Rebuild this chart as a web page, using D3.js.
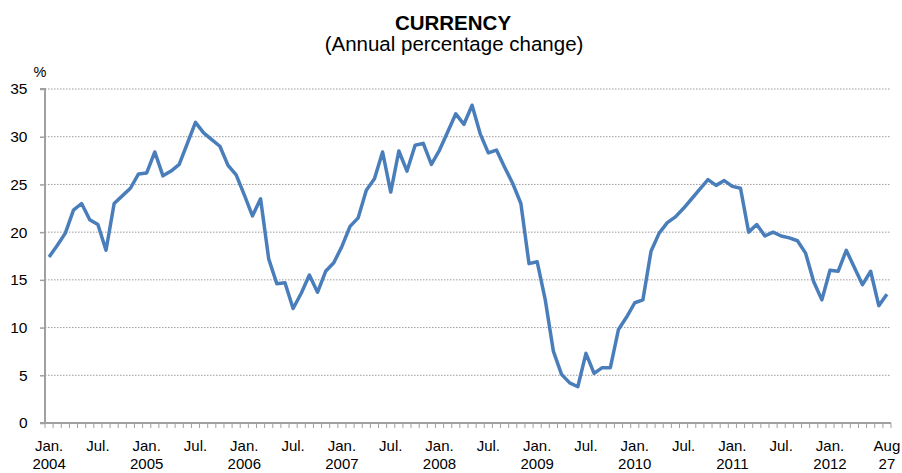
<!DOCTYPE html>
<html>
<head>
<meta charset="utf-8">
<script src="https://cdn.jsdelivr.net/npm/d3@7"></script>
<style>
  body { margin: 0; background: #fff; }
  svg { font-family: "Liberation Sans", Arial, sans-serif; }
</style>
</head>
<body>
<div id="chart"></div>
<script>
// monthly data, Jan 2004 .. Aug 2012
let startYear = 2004;
let values = [
  17.4, 18.6, 19.9, 22.3, 23.0, 21.3, 20.8, 18.1, 23.0, 23.8, 24.6, 26.1,
  26.2, 28.4, 25.9, 26.4, 27.1, 29.3, 31.5, 30.4, 29.7, 29.0, 27.0, 26.0,
  23.9, 21.7, 23.5, 17.2, 14.6, 14.7, 12.0, 13.6, 15.5, 13.7, 15.9, 16.8,
  18.5, 20.6, 21.5, 24.4, 25.6, 28.4, 24.2, 28.5, 26.4, 29.1, 29.3, 27.1,
  28.6, 30.5, 32.4, 31.3, 33.3, 30.3, 28.3, 28.6, 26.8, 25.1, 23.0, 16.7,
  16.9, 12.9, 7.5, 5.1, 4.2, 3.8, 7.3, 5.2, 5.8, 5.8, 9.8, 11.1,
  12.6, 12.9, 18.0, 19.9, 21.0, 21.6, 22.5, 23.5, 24.5, 25.5, 24.9, 25.4,
  24.8, 24.6, 20.0, 20.8, 19.6, 20.0, 19.6, 19.4, 19.1, 17.8, 14.8, 12.9,
  16.0, 15.9, 18.1, 16.3, 14.5, 15.9, 12.3, 13.5
];
let yTicks = [0, 5, 10, 15, 20, 25, 30, 35];
let lastLabel = ["Aug", "27"];
let title = "CURRENCY";
let subtitle = "(Annual percentage change)";
let unit = "%";

let svgWidth = 902;
let svgHeight = 473;
let margin = { top: 89, right: 11, bottom: 50, left: 45 };
let width = svgWidth - margin.left - margin.right;
let height = svgHeight - margin.top - margin.bottom;

let svg = d3.select("#chart").append("svg")
  .attr("width", svgWidth)
  .attr("height", svgHeight);

let g = svg.append("g").attr("transform", `translate(${margin.left},${margin.top})`);

let idx = d3.range(values.length);
let x = d3.scaleBand().domain(idx).range([0, width]);
let y = d3.scaleLinear().domain([0, 35]).range([height, 0]);

// horizontal dotted gridlines
g.append("g")
  .selectAll("line")
  .data(yTicks.filter(d => d > 0))
  .enter()
  .append("line")
  .attr("x1", 0)
  .attr("x2", width)
  .attr("y1", d => y(d))
  .attr("y2", d => y(d))
  .attr("stroke", "#9a9a9a")
  .attr("stroke-width", 1)
  .attr("stroke-dasharray", "1.5,1.5");

// y axis
let yAxis = g.append("g")
  .call(d3.axisLeft(y).tickValues(yTicks).tickSize(5).tickPadding(12.5));
yAxis.select(".domain").attr("stroke", "#a0a0a0").attr("stroke-width", 2)
  .attr("d", `M-5,0H0V${height}`);
yAxis.selectAll(".tick line").attr("stroke", "#a0a0a0").attr("stroke-width", 1.5);
yAxis.selectAll("text")
  .attr("font-size", "15.5px")
  .attr("fill", "#000")
  .attr("font-family", "Liberation Sans, Arial, sans-serif");

// x axis: tick marks between categories
let xAxisG = g.append("g").attr("transform", `translate(0,${height})`);
xAxisG.append("line")
  .attr("x1", -5).attr("x2", width)
  .attr("stroke", "#a0a0a0").attr("stroke-width", 2);
xAxisG.selectAll(".xtick")
  .data(d3.range(values.length + 1))
  .enter()
  .append("line")
  .attr("class", "xtick")
  .attr("x1", d => d * x.step())
  .attr("x2", d => d * x.step())
  .attr("y1", 0)
  .attr("y2", 5)
  .attr("stroke", "#a0a0a0")
  .attr("stroke-width", 1);

// labels every 6 months (none for Jul. of the last year), last one "Aug 27"
let last = values.length - 1;
let labelIdx = idx.filter(i => i % 6 === 0 && i < last - 2);
let monthLabel = i => (i % 12 === 0 ? "Jan." : "Jul.");
let cx = i => x(i) + x.bandwidth() / 2;
let xLabels = xAxisG.selectAll(".xlabel")
  .data(labelIdx)
  .enter()
  .append("text")
  .attr("class", "xlabel")
  .attr("x", cx)
  .attr("y", 28)
  .attr("text-anchor", "middle")
  .attr("font-size", "15px")
  .attr("fill", "#000");
xLabels.append("tspan").text(monthLabel);
xLabels.filter(i => i % 12 === 0).append("tspan")
  .attr("x", cx)
  .attr("dy", 18)
  .text(i => startYear + i / 12);

let endLabel = xAxisG.append("text")
  .attr("x", cx(last))
  .attr("y", 28)
  .attr("text-anchor", "middle")
  .attr("font-size", "15px")
  .attr("fill", "#000");
endLabel.append("tspan").text(lastLabel[0]);
endLabel.append("tspan").attr("x", cx(last)).attr("dy", 18).text(lastLabel[1]);

// data line
let line = d3.line()
  .x((d, i) => cx(i))
  .y(d => y(d));
g.append("path")
  .datum(values)
  .attr("fill", "none")
  .attr("stroke", "#4a7ebb")
  .attr("stroke-width", 3.5)
  .attr("stroke-linejoin", "round")
  .attr("d", line);

// titles
svg.append("text")
  .attr("x", 453).attr("y", 30)
  .attr("text-anchor", "middle")
  .attr("font-size", "20.5px")
  .attr("font-weight", "bold")
  .text(title);
svg.append("text")
  .attr("x", 454).attr("y", 51)
  .attr("text-anchor", "middle")
  .attr("font-size", "20.5px")
  .text(subtitle);
svg.append("text")
  .attr("x", 40).attr("y", 77)
  .attr("text-anchor", "middle")
  .attr("font-size", "14.5px")
  .text(unit);
</script>
</body>
</html>
